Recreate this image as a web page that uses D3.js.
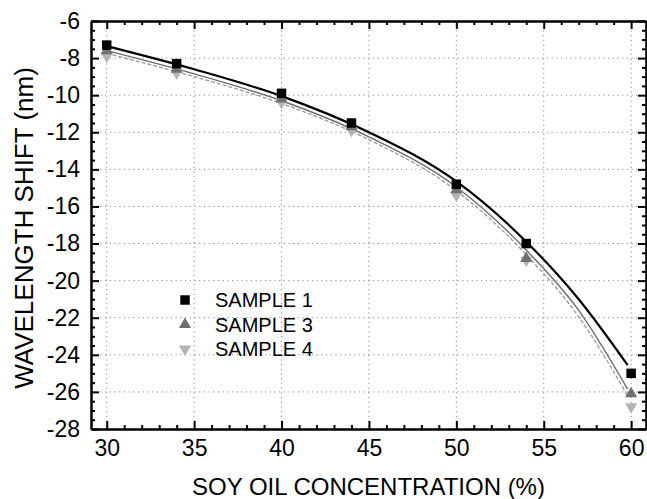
<!DOCTYPE html>
<html>
<head>
<meta charset="utf-8">
<script src="https://cdn.jsdelivr.net/npm/d3@7"></script>
<style>
  body { margin: 0; background: #fff; }
  text { font-family: "Liberation Sans", Arial, sans-serif; fill: #000; }
</style>
</head>
<body>
<svg id="chart" width="647" height="499"></svg>
<script>
// measured concentrations (%)
var conc = [30, 34, 40, 44, 50, 54, 60];
// wavelength shift (nm) per sample
var sample1 = [-7.3, -8.3, -9.9, -11.5, -14.8, -18.0, -25.0];
var sample3 = [-7.6, -8.6, -10.2, -11.7, -15.1, -18.8, -26.1];
var sample4 = [-7.9, -8.8, -10.4, -11.9, -15.4, -18.9, -26.8];

// fitted curves
var fitX  = [30, 35, 40, 45, 50, 54, 57, 59.8];
var fit1  = [-7.35, -8.6, -10.05, -12.0, -14.65, -17.9, -21.0, -24.55];
var fit3  = [-7.6, -8.85, -10.3, -12.25, -14.95, -18.35, -21.6, -25.85];
var fit4  = [-7.75, -9.0, -10.45, -12.4, -15.15, -18.6, -21.95, -26.2];

var xTicks = [30, 35, 40, 45, 50, 55, 60];
var yTicks = [-6, -8, -10, -12, -14, -16, -18, -20, -22, -24, -26, -28];

var svg = d3.select("#chart");
var frame = {left: 91, right: 646, top: 21, bottom: 429};

var x = d3.scaleLinear().domain([29.1, 60.85]).range([frame.left, frame.right]);
var y = d3.scaleLinear().domain([-28, -6]).range([frame.bottom, frame.top]);

var xMinor = d3.range(30, 61, 1).filter(function(d){ return d % 5 !== 0; });
var yMinor = d3.range(-28, -5.9, 0.5).filter(function(d){ return d % 2 !== 0; });

// plain hyphen for negatives, as in the original
var plain = function(d){ return String(d); };

/***********************************************************************************************************/
// dotted grid

var grid = svg.append("g").attr("class", "grid")
  .attr("stroke", "#8a8a8a").attr("stroke-width", 1).attr("stroke-dasharray", "1.2,3.5");

grid.selectAll(".gx").data(xTicks).enter().append("line")
  .attr("x1", function(d){ return x(d); }).attr("x2", function(d){ return x(d); })
  .attr("y1", frame.top).attr("y2", frame.bottom);

grid.selectAll(".gy").data(yTicks.filter(function(d){ return d > -28 && d < -6; })).enter().append("line")
  .attr("y1", function(d){ return y(d); }).attr("y2", function(d){ return y(d); })
  .attr("x1", frame.left).attr("x2", frame.right);

/***********************************************************************************************************/
// axes, ticks pointing inward

function axisStyle(g){
  g.select(".domain").attr("stroke-width", 2);
  g.selectAll(".tick line").attr("stroke-width", 2);
}

svg.append("g").attr("transform", "translate(0," + frame.bottom + ")")
  .call(d3.axisBottom(x).tickValues(xTicks).tickSize(-8).tickPadding(11).tickSizeOuter(0).tickFormat(plain))
  .call(axisStyle)
  .call(function(g){ g.selectAll("text").attr("font-size", 23).attr("font-family", null); });

svg.append("g").attr("transform", "translate(0," + frame.bottom + ")")
  .call(d3.axisBottom(x).tickValues(xMinor).tickSize(-4).tickFormat("").tickSizeOuter(0))
  .call(axisStyle);

svg.append("g").attr("transform", "translate(0," + frame.top + ")")
  .call(d3.axisTop(x).tickValues(xTicks).tickSize(-8).tickFormat("").tickSizeOuter(0))
  .call(axisStyle);

svg.append("g").attr("transform", "translate(0," + frame.top + ")")
  .call(d3.axisTop(x).tickValues(xMinor).tickSize(-4).tickFormat("").tickSizeOuter(0))
  .call(axisStyle);

svg.append("g").attr("transform", "translate(" + frame.left + ",0)")
  .call(d3.axisLeft(y).tickValues(yTicks).tickSize(-8).tickPadding(11).tickSizeOuter(0).tickFormat(plain))
  .call(axisStyle)
  .call(function(g){ g.selectAll("text").attr("font-size", 23).attr("font-family", null); });

svg.append("g").attr("transform", "translate(" + frame.left + ",0)")
  .call(d3.axisLeft(y).tickValues(yMinor).tickSize(-4).tickFormat("").tickSizeOuter(0))
  .call(axisStyle);

svg.append("g").attr("transform", "translate(" + frame.right + ",0)")
  .call(d3.axisRight(y).tickValues(yTicks).tickSize(-8).tickFormat("").tickSizeOuter(0))
  .call(axisStyle);

svg.append("g").attr("transform", "translate(" + frame.right + ",0)")
  .call(d3.axisRight(y).tickValues(yMinor).tickSize(-4).tickFormat("").tickSizeOuter(0))
  .call(axisStyle);

/***********************************************************************************************************/
// axis titles

svg.append("text")
  .attr("x", (frame.left + frame.right) / 2).attr("y", 495)
  .attr("text-anchor", "middle").attr("font-size", 24)
  .text("SOY OIL CONCENTRATION (%)");

svg.append("text")
  .attr("transform", "translate(33,228) rotate(-90)")
  .attr("text-anchor", "middle").attr("font-size", 26)
  .text("WAVELENGTH SHIFT (nm)");

/***********************************************************************************************************/
// fit curves

var line = function(ys){
  return d3.line()
    .x(function(d, i){ return x(fitX[i]); })
    .y(function(d){ return y(d); })
    .curve(d3.curveMonotoneX)(ys);
};

svg.append("path").attr("d", line(fit4)).attr("fill", "none")
  .attr("stroke", "#9a9a9a").attr("stroke-width", 1.3).attr("stroke-dasharray", "4,2");
svg.append("path").attr("d", line(fit3)).attr("fill", "none")
  .attr("stroke", "#6e6e6e").attr("stroke-width", 1.4);
svg.append("path").attr("d", line(fit1)).attr("fill", "none")
  .attr("stroke", "#000").attr("stroke-width", 2.2);

/***********************************************************************************************************/
// markers

var series = [
  {name: "SAMPLE 4", vals: sample4, sym: d3.symbolTriangle, rot: 180, fill: "#b4b4b4", size: 64},
  {name: "SAMPLE 3", vals: sample3, sym: d3.symbolTriangle, rot: 0, fill: "#707070", size: 64},
  {name: "SAMPLE 1", vals: sample1, sym: d3.symbolSquare, rot: 0, fill: "#000", size: 90}
];

series.forEach(function(s){
  svg.append("g").selectAll("path").data(s.vals).enter().append("path")
    .attr("d", d3.symbol().type(s.sym).size(s.size))
    .attr("transform", function(d, i){ return "translate(" + x(conc[i]) + "," + y(d) + ") rotate(" + s.rot + ")"; })
    .attr("fill", s.fill);
});

/***********************************************************************************************************/
// legend

var legendRows = [series[2], series[1], series[0]];
var lg = svg.append("g").attr("class", "legend");
legendRows.forEach(function(s, i){
  var cy = 300 + i * 24.5;
  lg.append("path")
    .attr("d", d3.symbol().type(s.sym).size(s.size))
    .attr("transform", "translate(185," + cy + ") rotate(" + s.rot + ")")
    .attr("fill", s.fill);
  lg.append("text").attr("x", 215).attr("y", cy + 7).attr("font-size", 20).text(s.name);
});
</script>
</body>
</html>
